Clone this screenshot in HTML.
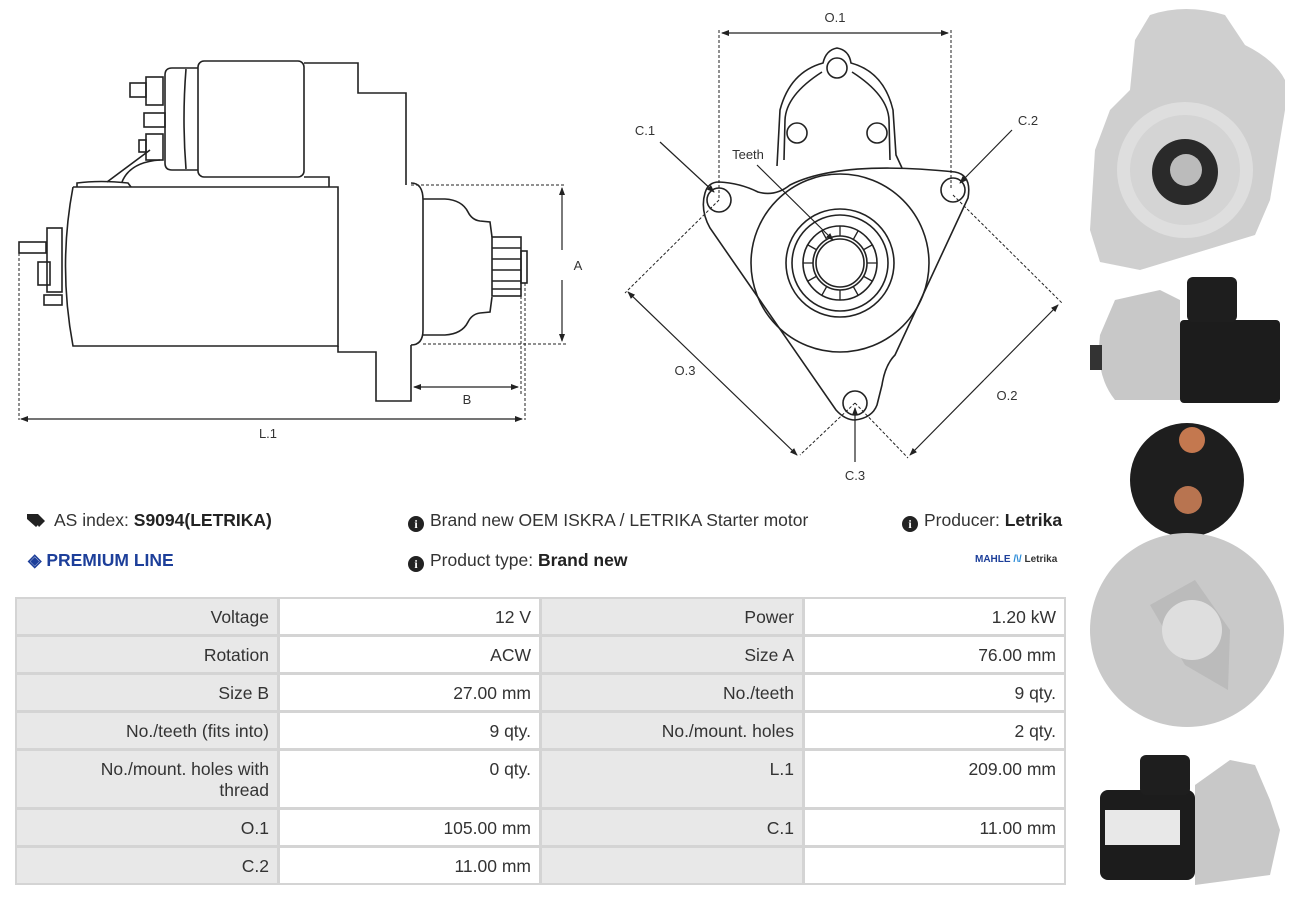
<!DOCTYPE html>
<html><head><meta charset="utf-8"><style>
*{margin:0;padding:0;box-sizing:border-box}
body{width:1297px;height:898px;background:#fff;position:relative;overflow:hidden;font-family:"Liberation Sans",sans-serif;color:#333}
.c{position:absolute;font-size:17.5px;text-align:right;padding:8px 8px 0 8px;line-height:21px;border:2px solid #d4d4d4}
.g{background:#e8e8e8}.w{background:#fff}
.t{position:absolute;font-size:17.5px;color:#333;white-space:nowrap}
b{color:#222}
.i{display:inline-block;width:16px;height:16px;border-radius:50%;background:#222;color:#fff;font-size:12px;font-weight:bold;text-align:center;line-height:16px;vertical-align:-2px;margin-right:6px;font-family:"Liberation Serif",serif}
</style></head><body>
<svg width="1297" height="898" style="position:absolute;left:0;top:0" font-family="Liberation Sans, sans-serif">
<defs><marker id="a" markerWidth="8" markerHeight="8" refX="7" refY="4" orient="auto" markerUnits="userSpaceOnUse"><path d="M0,1 L8,4 L0,7z" fill="#222"/></marker></defs>
<g fill="none" stroke="#222" stroke-width="1.6">
<path d="M304,63 L358,63 L358,93 L406,93 L406,185"/>
<rect x="198" y="61" width="106" height="116" rx="6"/>
<path d="M198,68 L172,68 Q165,68 165,75 L165,163 Q165,170 172,170 L198,170"/>
<path d="M186,69 Q182,119 186,169"/>
<rect x="146" y="77" width="17" height="28"/><rect x="130" y="83" width="16" height="14"/>
<rect x="144" y="113" width="21" height="14"/>
<rect x="146" y="134" width="17" height="26"/><rect x="139" y="140" width="7" height="12"/>
<path d="M150,150 L107,182 M160,160 Q130,162 122,182"/>
<path d="M77,187 L77,183 Q100,180 128,183 L131,187"/>
<path d="M304,177 L329,177 L329,187"/>
<path d="M73,187 L338,187 L338,346 L73,346 Q58,266 73,187"/>
<path d="M338,346 L338,352 L376,352 L376,401 L411,401 L411,345"/>
<path d="M411,183 Q423,183 423,200 L423,330 Q423,345 411,345"/>
<path d="M423,199 L445,199 Q462,200 468,212 Q472,220 480,221 L490,222 L492,237 M423,335 L445,335 Q462,334 468,322 Q472,314 480,313 L490,312 L492,297"/>
<rect x="492" y="237" width="29" height="59"/>
<rect x="521" y="251" width="6" height="32"/>
<path d="M492,248 H521 M492,259 H521 M492,270 H521 M492,281 H521 M492,289 H521"/>
<rect x="47" y="228" width="15" height="64"/>
<rect x="19" y="242" width="27" height="11"/>
<rect x="38" y="262" width="12" height="23"/>
<rect x="44" y="295" width="18" height="10"/>
</g>
<g stroke="#222" stroke-width="1" fill="none" stroke-dasharray="3,2">
<path d="M411,185 H566 M423,344 H566 M19,248 V420 M525,283 V420 M521,296 V395"/>
<path d="M719,30 V200 M951,30 V190 M719,200 L625,293 M855,403 L800,455 M953,195 L1062,303 M855,403 L908,458"/>
</g>
<g stroke="#222" stroke-width="1.2" fill="none" marker-end="url(#a)">
<path d="M562,250 V188"/><path d="M562,280 V341"/>
<path d="M467,387 H414"/><path d="M467,387 H518"/>
<path d="M268,419 H21"/><path d="M268,419 H522"/>
<path d="M835,33 H722"/><path d="M835,33 H948"/>
<path d="M712,373 L628,292"/><path d="M712,373 L797,455"/>
<path d="M984,380 L1058,305"/><path d="M984,380 L910,455"/>
<path d="M660,142 L714,192"/><path d="M1012,130 L960,183"/><path d="M855,462 L855,408"/><path d="M757,165 L833,240"/>
</g>
<g font-size="13" fill="#333" text-anchor="middle">
<text x="578" y="270">A</text><text x="467" y="404">B</text><text x="268" y="438">L.1</text>
<text x="835" y="22">O.1</text><text x="645" y="135">C.1</text><text x="1028" y="125">C.2</text><text x="855" y="480">C.3</text>
<text x="748" y="159">Teeth</text><text x="685" y="375">O.3</text><text x="1007" y="400">O.2</text>
</g>
<g fill="none" stroke="#222" stroke-width="1.6">
<path d="M719,182 Q740,183 758,192 Q775,197 790,185 Q840,160 955,172 Q972,175 968,198 L895,355 Q885,365 882,385 L877,405 Q872,418 855,420 Q845,420 836,410 L710,228 Q700,210 705,193 Q708,182 719,182"/>
<path d="M777,166 L780,110 Q790,72 823,63 Q826,50 837,48 Q849,50 851,63 Q884,72 893,110 L896,155 L902,168"/>
<path d="M784,160 L785,120 Q786,95 822,72 M852,72 Q888,95 889,120 L890,160"/>
<circle cx="837" cy="68" r="10"/><circle cx="797" cy="133" r="10"/><circle cx="877" cy="133" r="10"/>
<circle cx="719" cy="200" r="12"/><circle cx="953" cy="190" r="12"/><circle cx="855" cy="403" r="12"/>
<circle cx="840" cy="263" r="89"/><circle cx="840" cy="263" r="54"/><circle cx="840" cy="263" r="48"/>
<circle cx="840" cy="263" r="37"/><circle cx="840" cy="263" r="27"/><circle cx="840" cy="263" r="24"/>
</g>
<g stroke="#222" stroke-width="1.3">
<path d="M840,226 V236 M858,231 L853,240 M872,245 L863,250 M877,263 H867 M872,281 L863,276 M858,295 L853,286 M840,300 V290 M822,295 L827,286 M808,281 L817,276 M803,263 H813 M808,245 L817,250 M822,231 L827,240"/>
</g>
<g>
<path d="M1150,15 Q1185,3 1225,15 L1245,45 Q1275,60 1285,80 L1285,110 L1270,200 L1255,235 L1140,270 L1100,262 L1090,230 L1095,150 L1110,110 L1130,90 L1135,40z" fill="#cfcfcf"/>
<circle cx="1185" cy="170" r="68" fill="#dedede"/><circle cx="1185" cy="170" r="55" fill="#d4d4d4"/>
<circle cx="1185" cy="172" r="33" fill="#2a2a2a"/><circle cx="1186" cy="170" r="16" fill="#bbb"/>
<path d="M1100,335 L1115,300 L1160,290 L1180,300 L1180,400 L1115,400 Q1095,375 1100,335z" fill="#c8c8c8"/>
<rect x="1180" y="320" width="100" height="83" rx="4" fill="#1c1c1c"/>
<rect x="1187" y="277" width="50" height="45" rx="6" fill="#1e1e1e"/>
<rect x="1090" y="345" width="12" height="25" fill="#333"/>
<circle cx="1187" cy="480" r="57" fill="#1e1e1e"/>
<circle cx="1192" cy="440" r="13" fill="#c4784f"/><circle cx="1188" cy="500" r="14" fill="#b87450"/>
<circle cx="1187" cy="630" r="97" fill="#c9c9c9"/>
<path d="M1150,605 L1195,580 L1230,630 L1228,690 L1185,665 Z" fill="#bbbbbb"/>
<circle cx="1192" cy="630" r="30" fill="#dedede"/>
<rect x="1100" y="790" width="95" height="90" rx="8" fill="#1c1c1c"/>
<rect x="1140" y="755" width="50" height="40" rx="6" fill="#1e1e1e"/>
<path d="M1195,785 L1230,760 L1255,765 L1270,800 L1280,830 L1270,875 L1195,885z" fill="#c8c8c8"/>
<rect x="1105" y="810" width="75" height="35" fill="#e8e8e8"/>
</g>
</svg>
<svg width="20" height="16" style="position:absolute;top:512px;left:26px"><path d="M1,2 L8,2 L16,9 L10,15 L1,7z M5,2 L12,2 L19,9 L13,15" fill="#222"/></svg>
<div class="t" style="left:54px;top:510px">AS index: <b>S9094(LETRIKA)</b></div>
<div class="t" style="left:28px;top:550px;color:#1d3f9a;font-weight:bold">&#9672; PREMIUM LINE</div>
<div class="t" style="left:408px;top:510px"><span class="i">i</span>Brand new OEM ISKRA / LETRIKA Starter motor</div>
<div class="t" style="left:408px;top:550px"><span class="i">i</span>Product type: <b>Brand new</b></div>
<div class="t" style="left:902px;top:510px"><span class="i">i</span>Producer: <b>Letrika</b></div>
<div class="t" style="left:975px;top:554px;font-size:10px;font-weight:bold;color:#1d3f9a">MAHLE <span style="color:#2a8bd8">/\/</span> <span style="color:#333">Letrika</span></div>
<div class="c g" style="left:15px;top:597px;width:264px;height:39px">Voltage</div>
<div class="c w" style="left:278px;top:597px;width:263px;height:39px">12 V</div>
<div class="c g" style="left:540px;top:597px;width:264px;height:39px">Power</div>
<div class="c w" style="left:803px;top:597px;width:263px;height:39px">1.20 kW</div>
<div class="c g" style="left:15px;top:635px;width:264px;height:39px">Rotation</div>
<div class="c w" style="left:278px;top:635px;width:263px;height:39px">ACW</div>
<div class="c g" style="left:540px;top:635px;width:264px;height:39px">Size A</div>
<div class="c w" style="left:803px;top:635px;width:263px;height:39px">76.00 mm</div>
<div class="c g" style="left:15px;top:673px;width:264px;height:39px">Size B</div>
<div class="c w" style="left:278px;top:673px;width:263px;height:39px">27.00 mm</div>
<div class="c g" style="left:540px;top:673px;width:264px;height:39px">No./teeth</div>
<div class="c w" style="left:803px;top:673px;width:263px;height:39px">9 qty.</div>
<div class="c g" style="left:15px;top:711px;width:264px;height:39px">No./teeth (fits into)</div>
<div class="c w" style="left:278px;top:711px;width:263px;height:39px">9 qty.</div>
<div class="c g" style="left:540px;top:711px;width:264px;height:39px">No./mount. holes</div>
<div class="c w" style="left:803px;top:711px;width:263px;height:39px">2 qty.</div>
<div class="c g" style="left:15px;top:749px;width:264px;height:60px">No./mount. holes with<br>thread</div>
<div class="c w" style="left:278px;top:749px;width:263px;height:60px">0 qty.</div>
<div class="c g" style="left:540px;top:749px;width:264px;height:60px">L.1</div>
<div class="c w" style="left:803px;top:749px;width:263px;height:60px">209.00 mm</div>
<div class="c g" style="left:15px;top:808px;width:264px;height:39px">O.1</div>
<div class="c w" style="left:278px;top:808px;width:263px;height:39px">105.00 mm</div>
<div class="c g" style="left:540px;top:808px;width:264px;height:39px">C.1</div>
<div class="c w" style="left:803px;top:808px;width:263px;height:39px">11.00 mm</div>
<div class="c g" style="left:15px;top:846px;width:264px;height:39px">C.2</div>
<div class="c w" style="left:278px;top:846px;width:263px;height:39px">11.00 mm</div>
<div class="c g" style="left:540px;top:846px;width:264px;height:39px"></div>
<div class="c w" style="left:803px;top:846px;width:263px;height:39px"></div>
</body></html>
